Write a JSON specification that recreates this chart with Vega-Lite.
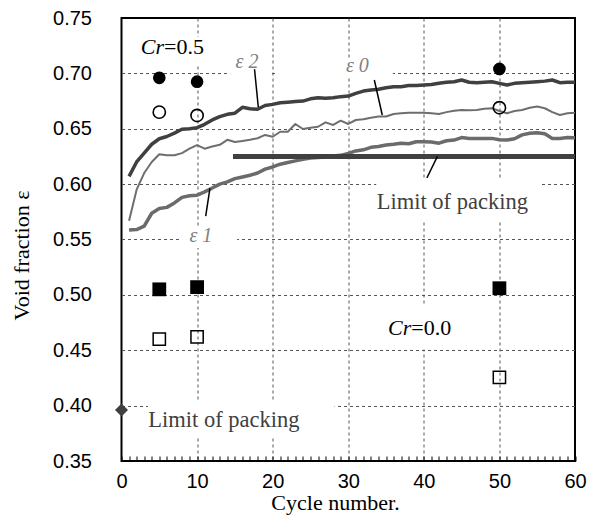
{
  "$schema": "https://vega.github.io/schema/vega-lite/v6.json",
  "width": 453.5,
  "height": 443,
  "autosize": "none",
  "padding": {"left": 121.5, "top": 18, "right": 14, "bottom": 62},
  "background": "white",
  "config": {
    "view": {"stroke": "#000", "strokeWidth": 2},
    "axis": {"domain": false}
  },
  "datasets": {
    "curves": [
      {"s":"e2","n":1,"v":0.607},{"s":"e2","n":2,"v":0.620},{"s":"e2","n":3,"v":0.628},{"s":"e2","n":4,"v":0.636},{"s":"e2","n":5,"v":0.641},
      {"s":"e2","n":6,"v":0.643},{"s":"e2","n":7,"v":0.646},{"s":"e2","n":8,"v":0.6495},{"s":"e2","n":9,"v":0.650},{"s":"e2","n":10,"v":0.651},
      {"s":"e2","n":11,"v":0.654},{"s":"e2","n":12,"v":0.658},{"s":"e2","n":13,"v":0.661},{"s":"e2","n":14,"v":0.663},{"s":"e2","n":15,"v":0.664},
      {"s":"e2","n":16,"v":0.6694},{"s":"e2","n":17,"v":0.668},{"s":"e2","n":18,"v":0.6676},{"s":"e2","n":19,"v":0.671},{"s":"e2","n":20,"v":0.672},
      {"s":"e2","n":21,"v":0.6735},{"s":"e2","n":22,"v":0.674},{"s":"e2","n":23,"v":0.6745},{"s":"e2","n":24,"v":0.675},{"s":"e2","n":25,"v":0.677},
      {"s":"e2","n":26,"v":0.678},{"s":"e2","n":27,"v":0.6775},{"s":"e2","n":28,"v":0.678},{"s":"e2","n":29,"v":0.679},{"s":"e2","n":30,"v":0.6795},
      {"s":"e2","n":31,"v":0.682},{"s":"e2","n":32,"v":0.684},{"s":"e2","n":33,"v":0.685},{"s":"e2","n":34,"v":0.6856},{"s":"e2","n":35,"v":0.687},
      {"s":"e2","n":36,"v":0.688},{"s":"e2","n":37,"v":0.688},{"s":"e2","n":38,"v":0.689},{"s":"e2","n":39,"v":0.689},{"s":"e2","n":40,"v":0.6895},
      {"s":"e2","n":41,"v":0.690},{"s":"e2","n":42,"v":0.691},{"s":"e2","n":43,"v":0.692},{"s":"e2","n":44,"v":0.6925},{"s":"e2","n":45,"v":0.694},
      {"s":"e2","n":46,"v":0.692},{"s":"e2","n":47,"v":0.6916},{"s":"e2","n":48,"v":0.692},{"s":"e2","n":49,"v":0.6925},{"s":"e2","n":50,"v":0.691},
      {"s":"e2","n":51,"v":0.6895},{"s":"e2","n":52,"v":0.691},{"s":"e2","n":53,"v":0.6916},{"s":"e2","n":54,"v":0.692},{"s":"e2","n":55,"v":0.6925},
      {"s":"e2","n":56,"v":0.693},{"s":"e2","n":57,"v":0.694},{"s":"e2","n":58,"v":0.6916},{"s":"e2","n":59,"v":0.692},{"s":"e2","n":60,"v":0.692},

      {"s":"e0","n":1,"v":0.567},{"s":"e0","n":2,"v":0.595},{"s":"e0","n":3,"v":0.610},{"s":"e0","n":4,"v":0.620},{"s":"e0","n":5,"v":0.627},
      {"s":"e0","n":6,"v":0.626},{"s":"e0","n":7,"v":0.626},{"s":"e0","n":8,"v":0.628},{"s":"e0","n":9,"v":0.632},{"s":"e0","n":10,"v":0.6353},
      {"s":"e0","n":11,"v":0.632},{"s":"e0","n":12,"v":0.634},{"s":"e0","n":13,"v":0.6355},{"s":"e0","n":14,"v":0.640},{"s":"e0","n":15,"v":0.638},
      {"s":"e0","n":16,"v":0.639},{"s":"e0","n":17,"v":0.640},{"s":"e0","n":18,"v":0.6414},{"s":"e0","n":19,"v":0.6444},{"s":"e0","n":20,"v":0.6428},
      {"s":"e0","n":21,"v":0.6473},{"s":"e0","n":22,"v":0.6473},{"s":"e0","n":23,"v":0.6543},{"s":"e0","n":24,"v":0.6498},{"s":"e0","n":25,"v":0.651},
      {"s":"e0","n":26,"v":0.6518},{"s":"e0","n":27,"v":0.6558},{"s":"e0","n":28,"v":0.6534},{"s":"e0","n":29,"v":0.6573},{"s":"e0","n":30,"v":0.6543},
      {"s":"e0","n":31,"v":0.6579},{"s":"e0","n":32,"v":0.6585},{"s":"e0","n":33,"v":0.660},{"s":"e0","n":34,"v":0.661},{"s":"e0","n":35,"v":0.661},
      {"s":"e0","n":36,"v":0.6633},{"s":"e0","n":37,"v":0.664},{"s":"e0","n":38,"v":0.6645},{"s":"e0","n":39,"v":0.6645},{"s":"e0","n":40,"v":0.6645},
      {"s":"e0","n":41,"v":0.664},{"s":"e0","n":42,"v":0.6633},{"s":"e0","n":43,"v":0.665},{"s":"e0","n":44,"v":0.6663},{"s":"e0","n":45,"v":0.667},
      {"s":"e0","n":46,"v":0.6668},{"s":"e0","n":47,"v":0.667},{"s":"e0","n":48,"v":0.668},{"s":"e0","n":49,"v":0.6685},{"s":"e0","n":50,"v":0.666},
      {"s":"e0","n":51,"v":0.664},{"s":"e0","n":52,"v":0.666},{"s":"e0","n":53,"v":0.667},{"s":"e0","n":54,"v":0.669},{"s":"e0","n":55,"v":0.670},
      {"s":"e0","n":56,"v":0.6685},{"s":"e0","n":57,"v":0.665},{"s":"e0","n":58,"v":0.6624},{"s":"e0","n":59,"v":0.664},{"s":"e0","n":60,"v":0.6645},

      {"s":"e1","n":1,"v":0.5586},{"s":"e1","n":2,"v":0.559},{"s":"e1","n":3,"v":0.562},{"s":"e1","n":4,"v":0.5737},{"s":"e1","n":5,"v":0.578},
      {"s":"e1","n":6,"v":0.579},{"s":"e1","n":7,"v":0.583},{"s":"e1","n":8,"v":0.588},{"s":"e1","n":9,"v":0.5895},{"s":"e1","n":10,"v":0.590},
      {"s":"e1","n":11,"v":0.593},{"s":"e1","n":12,"v":0.5965},{"s":"e1","n":13,"v":0.600},{"s":"e1","n":14,"v":0.602},{"s":"e1","n":15,"v":0.605},
      {"s":"e1","n":16,"v":0.6065},{"s":"e1","n":17,"v":0.608},{"s":"e1","n":18,"v":0.610},{"s":"e1","n":19,"v":0.6135},{"s":"e1","n":20,"v":0.6155},
      {"s":"e1","n":21,"v":0.618},{"s":"e1","n":22,"v":0.6195},{"s":"e1","n":23,"v":0.621},{"s":"e1","n":24,"v":0.6225},{"s":"e1","n":25,"v":0.6235},
      {"s":"e1","n":26,"v":0.624},{"s":"e1","n":27,"v":0.6245},{"s":"e1","n":28,"v":0.6254},{"s":"e1","n":29,"v":0.626},{"s":"e1","n":30,"v":0.6278},
      {"s":"e1","n":31,"v":0.630},{"s":"e1","n":32,"v":0.631},{"s":"e1","n":33,"v":0.6332},{"s":"e1","n":34,"v":0.634},{"s":"e1","n":35,"v":0.6353},
      {"s":"e1","n":36,"v":0.636},{"s":"e1","n":37,"v":0.637},{"s":"e1","n":38,"v":0.6365},{"s":"e1","n":39,"v":0.6383},{"s":"e1","n":40,"v":0.6383},
      {"s":"e1","n":41,"v":0.638},{"s":"e1","n":42,"v":0.637},{"s":"e1","n":43,"v":0.6392},{"s":"e1","n":44,"v":0.6398},{"s":"e1","n":45,"v":0.642},
      {"s":"e1","n":46,"v":0.6413},{"s":"e1","n":47,"v":0.6413},{"s":"e1","n":48,"v":0.6413},{"s":"e1","n":49,"v":0.6413},{"s":"e1","n":50,"v":0.640},
      {"s":"e1","n":51,"v":0.6398},{"s":"e1","n":52,"v":0.641},{"s":"e1","n":53,"v":0.6445},{"s":"e1","n":54,"v":0.646},{"s":"e1","n":55,"v":0.6464},
      {"s":"e1","n":56,"v":0.6455},{"s":"e1","n":57,"v":0.6413},{"s":"e1","n":58,"v":0.6413},{"s":"e1","n":59,"v":0.642},{"s":"e1","n":60,"v":0.6419}
    ],
    "markers": [
      {"k":"fc","n":5,"v":0.696},{"k":"fc","n":10,"v":0.6925},{"k":"fc","n":50,"v":0.704},
      {"k":"oc","n":5,"v":0.665},{"k":"oc","n":10,"v":0.662},{"k":"oc","n":50,"v":0.669},
      {"k":"fs","n":5,"v":0.505},{"k":"fs","n":10,"v":0.507},{"k":"fs","n":50,"v":0.506},
      {"k":"os","n":5,"v":0.460},{"k":"os","n":10,"v":0.462},{"k":"os","n":50,"v":0.4256},
      {"k":"dm","n":0,"v":0.396}
    ],
    "boxes": [
      {"n0":14.0,"n1":19.6,"v0":0.721,"v1":0.6976},
      {"n0":20.3,"n1":35.9,"v0":0.7139,"v1":0.6976},
      {"n0":8.0,"n1":15.3,"v0":0.5604,"v1":0.5423},
      {"n0":33.7,"n1":55.3,"v0":0.6055,"v1":0.5676},
      {"n0":3.5,"n1":28.2,"v0":0.4051,"v1":0.3708},
      {"n0":34.9,"n1":44.8,"v0":0.4899,"v1":0.4507},
      {"n0":2.2,"n1":11.7,"v0":0.7328,"v1":0.7076}
    ],
    "leaders": [
      {"n0":17.6,"v0":0.7037,"n1":18.1,"v1":0.6694},
      {"n0":33.45,"v0":0.694,"n1":34.5,"v1":0.6624},
      {"n0":11.7,"v0":0.5962,"n1":11.14,"v1":0.5712},
      {"n0":41.8,"v0":0.625,"n1":40.4,"v1":0.6055}
    ],
    "limit": [{"n0":14.75,"n1":60,"v":0.625}],
    "labels": [
      {"g":"cr","t":"Cr","n":5.62,"v":0.7175},
      {"g":"crn","t":"=0.5","n":5.62,"v":0.7175},
      {"g":"cr","t":"Cr","n":38.35,"v":0.4638},
      {"g":"crn","t":"=0.0","n":38.35,"v":0.4638},
      {"g":"eps","t":"ε 2","n":16.6,"v":0.7103},
      {"g":"eps","t":"ε 0","n":31.2,"v":0.7067},
      {"g":"eps","t":"ε 1","n":10.5,"v":0.5532},
      {"g":"lim","t":"Limit of packing","n":33.76,"v":0.5773},
      {"g":"lim","t":"Limit of packing","n":3.55,"v":0.381}
    ]
  },
  "encoding": {
    "x": {
      "field": "n", "type": "quantitative",
      "scale": {"domain": [0, 60], "nice": false, "zero": false},
      "axis": {
        "values": [0,1,2,3,4,5,6,7,8,9,10,11,12,13,14,15,16,17,18,19,20,21,22,23,24,25,26,27,28,29,30,31,32,33,34,35,36,37,38,39,40,41,42,43,44,45,46,47,48,49,50,51,52,53,54,55,56,57,58,59,60],
        "format": "d",
        "offset": -5,
        "labelExpr": "datum.value % 10 === 0 ? datum.label : ''",
        "labelFont": "Liberation Sans", "labelFontSize": 20, "labelColor": "#000",
        "labelOverlap": false, "labelFlush": false, "labelPadding": 10,
        "ticks": true, "tickSize": 5, "tickColor": "#000", "tickWidth": 1, "tickOpacity": 1,
        "grid": true, "gridDash": [3, 3], "gridColor": "#555", "gridWidth": 1,
        "gridOpacity": {"condition": {"test": "datum.value % 10 !== 0 || datum.value === 0 || datum.value === 60", "value": 0}, "value": 1},
        "title": "Cycle number.", "titleFont": "Liberation Serif", "titleFontSize": 22, "titleFontWeight": "normal", "titleColor": "#000",
        "titleX": 213.5, "titleY": 53, "titleBaseline": "alphabetic", "titleAlign": "center"
      }
    },
    "y": {
      "field": "v", "type": "quantitative",
      "scale": {"domain": [0.35, 0.75], "nice": false, "zero": false},
      "axis": {
        "values": [0.35, 0.4, 0.45, 0.5, 0.55, 0.6, 0.65, 0.7, 0.75],
        "format": ".2f",
        "labelFont": "Liberation Sans", "labelFontSize": 20, "labelColor": "#000",
        "labelPadding": 30, "ticks": false, "labelOverlap": false, "labelFlush": false,
        "grid": true, "gridDash": [3, 3], "gridColor": "#555", "gridWidth": 1,
        "gridOpacity": {"condition": {"test": "datum.value < 0.36 || datum.value > 0.74", "value": 0}, "value": 1},
        "title": "Void fraction  ε", "titleFont": "Liberation Serif", "titleFontSize": 22, "titleFontWeight": "normal", "titleColor": "#000",
        "titleAngle": -90, "titleX": -93, "titleY": 237, "titleBaseline": "alphabetic", "titleAlign": "center"
      }
    }
  },
  "layer": [
    {
      "data": {"name": "boxes"},
      "mark": {"type": "rect", "fill": "white", "strokeWidth": 0},
      "encoding": {"x": {"field": "n0", "type": "quantitative"}, "x2": {"field": "n1"}, "y": {"field": "v0", "type": "quantitative"}, "y2": {"field": "v1"}}
    },
    {
      "data": {"name": "curves"},
      "transform": [{"filter": "datum.s === 'e1'"}],
      "mark": {"type": "line", "color": "#6b6b6b", "strokeWidth": 3.5, "strokeJoin": "round"},
      "encoding": {}
    },
    {
      "data": {"name": "curves"},
      "transform": [{"filter": "datum.s === 'e0'"}],
      "mark": {"type": "line", "color": "#6e6e6e", "strokeWidth": 2, "strokeJoin": "round"},
      "encoding": {}
    },
    {
      "data": {"name": "curves"},
      "transform": [{"filter": "datum.s === 'e2'"}],
      "mark": {"type": "line", "color": "#404040", "strokeWidth": 3.5, "strokeJoin": "round"},
      "encoding": {}
    },
    {
      "data": {"name": "limit"},
      "mark": {"type": "rule", "color": "#404040", "strokeWidth": 5},
      "encoding": {"x": {"field": "n0", "type": "quantitative"}, "x2": {"field": "n1"}, "y": {"field": "v", "type": "quantitative"}}
    },
    {
      "data": {"name": "leaders"},
      "mark": {"type": "rule", "color": "#000", "strokeWidth": 1.5},
      "encoding": {"x": {"field": "n0", "type": "quantitative"}, "x2": {"field": "n1"}, "y": {"field": "v0", "type": "quantitative"}, "y2": {"field": "v1"}}
    },
    {
      "data": {"name": "markers"},
      "transform": [{"filter": "datum.k === 'fc'"}],
      "mark": {"type": "point", "shape": "circle", "filled": true, "color": "#000", "size": 160, "opacity": 1}
    },
    {
      "data": {"name": "markers"},
      "transform": [{"filter": "datum.k === 'oc'"}],
      "mark": {"type": "point", "shape": "circle", "filled": false, "color": "#000", "strokeWidth": 1.6, "size": 150, "opacity": 1}
    },
    {
      "data": {"name": "markers"},
      "transform": [{"filter": "datum.k === 'fs'"}],
      "mark": {"type": "point", "shape": "square", "filled": true, "color": "#000", "size": 190, "opacity": 1}
    },
    {
      "data": {"name": "markers"},
      "transform": [{"filter": "datum.k === 'os'"}],
      "mark": {"type": "point", "shape": "square", "filled": false, "color": "#000", "strokeWidth": 1.5, "size": 150, "opacity": 1}
    },
    {
      "data": {"name": "markers"},
      "transform": [{"filter": "datum.k === 'dm'"}],
      "mark": {"type": "point", "shape": "diamond", "filled": true, "color": "#404040", "size": 170, "opacity": 1}
    },
    {
      "data": {"name": "labels"},
      "transform": [{"filter": "datum.g === 'cr'"}],
      "mark": {"type": "text", "font": "Liberation Serif", "fontStyle": "italic", "fontSize": 22, "align": "right", "baseline": "alphabetic", "color": "#000"},
      "encoding": {"text": {"field": "t"}}
    },
    {
      "data": {"name": "labels"},
      "transform": [{"filter": "datum.g === 'crn'"}],
      "mark": {"type": "text", "font": "Liberation Serif", "fontSize": 22, "align": "left", "baseline": "alphabetic", "color": "#000"},
      "encoding": {"text": {"field": "t"}}
    },
    {
      "data": {"name": "labels"},
      "transform": [{"filter": "datum.g === 'eps'"}],
      "mark": {"type": "text", "font": "Liberation Serif", "fontStyle": "italic", "fontSize": 20, "align": "center", "baseline": "middle", "color": "#808080"},
      "encoding": {"text": {"field": "t"}}
    },
    {
      "data": {"name": "labels"},
      "transform": [{"filter": "datum.g === 'lim'"}],
      "mark": {"type": "text", "font": "Liberation Serif", "fontSize": 22.5, "align": "left", "baseline": "alphabetic", "color": "#404040"},
      "encoding": {"text": {"field": "t"}}
    }
  ]
}
